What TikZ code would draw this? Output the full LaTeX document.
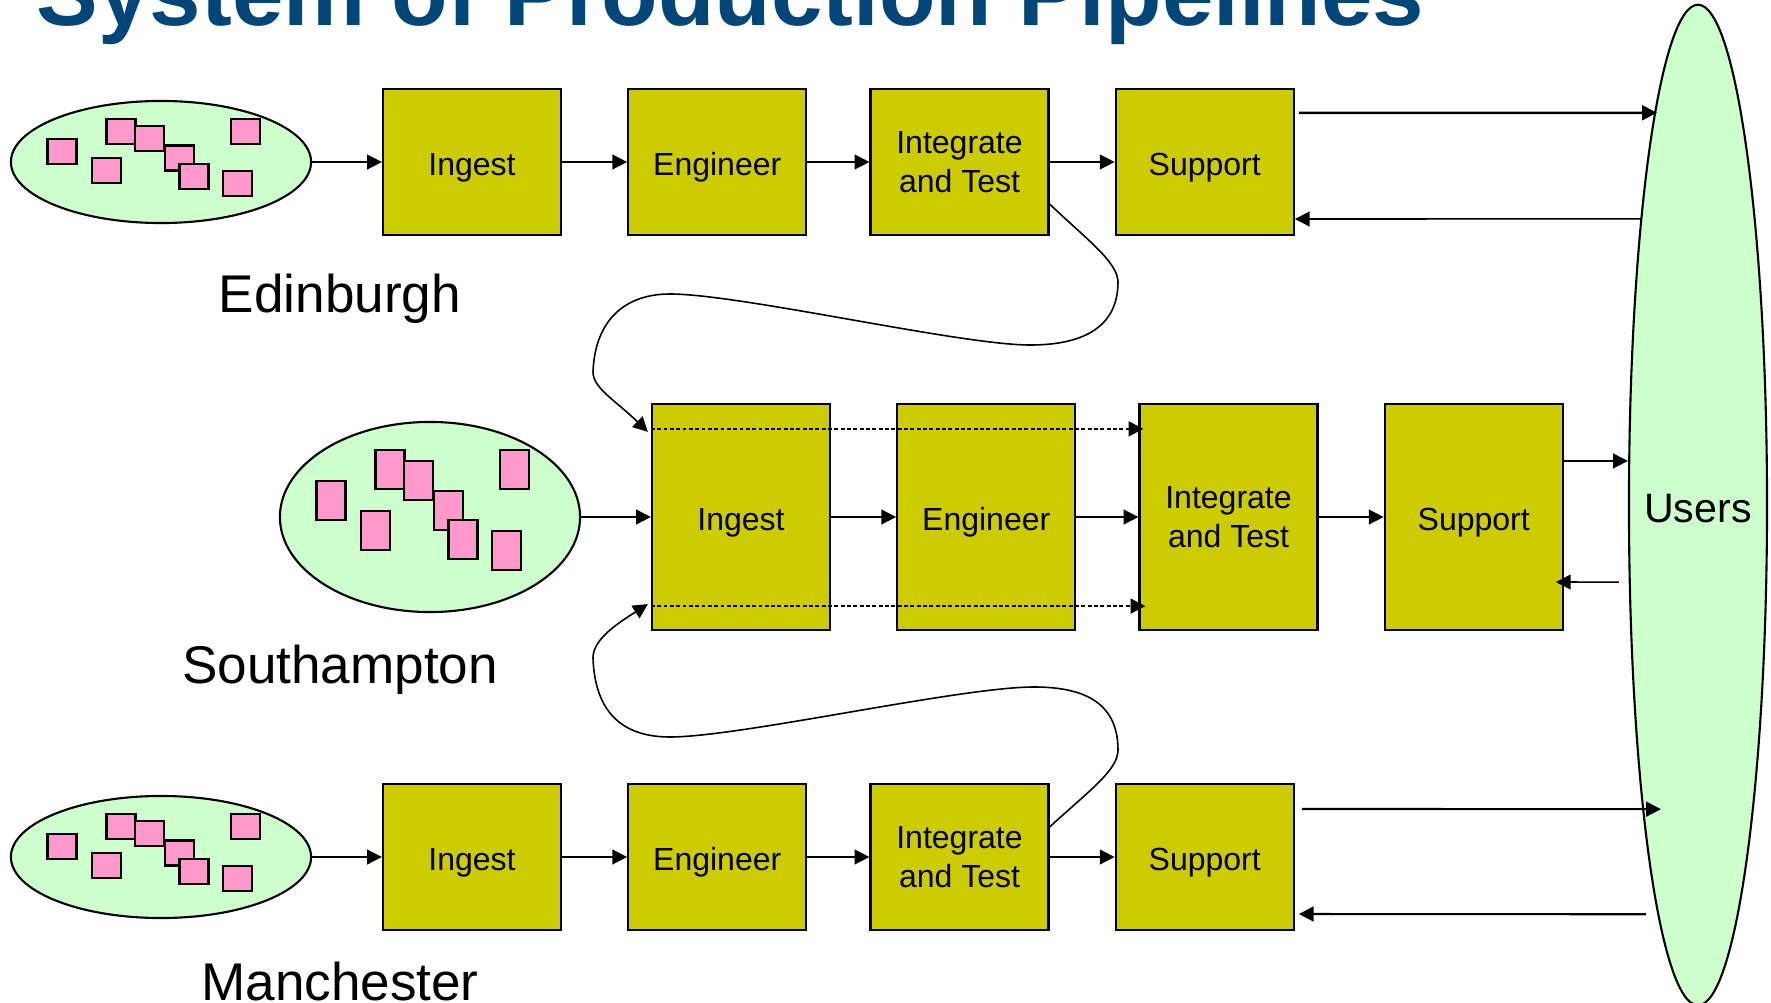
\documentclass[tikz,border=0pt]{standalone}
\usepackage{fontspec}
\setmainfont{Liberation Sans}
\usetikzlibrary{shapes.geometric, arrows.meta, positioning}
\definecolor{stageyellow}{RGB}{204,204,0}
\definecolor{sitegreen}{RGB}{204,255,204}
\definecolor{paperpink}{RGB}{255,153,204}
\definecolor{titleblue}{RGB}{0,70,120}
\tikzstyle{stage} = [rectangle, minimum width=1.78cm, minimum height=1.46cm, text centered, align=center, draw=black, fill=stageyellow, line width=0.6pt, font=\fontsize{9.1}{10.9}\selectfont]
\tikzstyle{oneline} = [text height=7.6pt, text depth=0pt]
\tikzstyle{tallstage} = [stage, minimum height=2.26cm]
\tikzstyle{site} = [ellipse, minimum width=3cm, minimum height=1.22cm, draw=black, fill=sitegreen, line width=0.6pt]
\tikzstyle{paper} = [draw=black, fill=paperpink, line width=0.6pt]
\tikzstyle{place} = [anchor=base, inner sep=0pt, font=\fontsize{15.1}{18}\selectfont]
\tikzstyle{arrow} = [->, >={Triangle[length=4.2pt,width=4.2pt]}, line width=0.45pt]
\tikzstyle{dots} = [arrow, line width=0.6pt, dash pattern=on 1.1pt off 0.7pt]

\begin{document}
\begin{tikzpicture}[x=0.01cm, y=-0.01cm, node distance=0.65cm]
		\useasboundingbox (0,0) rectangle (1771,1003);
		\node (title) [anchor=base west, inner sep=0pt, text=titleblue, font=\fontsize{26.3}{30}\selectfont\bfseries] at (36,25) {System of Production Pipelines};
		
		% users
		\node (users) [site, minimum width=1.38cm, minimum height=10cm] at (1698,505) {};
		\node (userstxt) [font=\fontsize{11.7}{14}\selectfont] at (1698,509) {Users};
		
		% sites
		\node (edin) [site] at (161,162) {};
		\node (soton) [site, minimum height=1.9cm] at (430,517) {};
		\node (manc) [site] at (161,857) {};
		\foreach \s/\k in {edin/1, soton/1.56, manc/1}
		{
			\begin{scope}[shift={(\s.center)}, yscale=\k]
				\foreach \x/\y in {-99/-10.5, -54.5/8.5, -40/-30.5, -11.5/-23.5, 18.5/-4, 33/14.5, 84.5/-30.5, 76.5/21.5}
					\draw [paper] ({\x-14.5},{\y-12.5}) rectangle ({\x+14.5},{\y+12.5});
			\end{scope}
		}
		\node (edinlbl) [place] at (340,312) {Edinburgh};
		\node (sotonlbl) [place] at (340,683) {Southampton};
		\node (manclbl) [place] at (340,1000) {Manchester};
		
		% pipelines
		\node (ingA) [stage, oneline] at (472,162) {Ingest};
		\node (engA) [stage, oneline, right=of ingA] {Engineer};
		\node (intA) [stage, right=0.62cm of engA] {Integrate\\and Test};
		\node (supA) [stage, oneline, right=of intA] {Support};
		
		\node (ingB) [tallstage, oneline] at (741,517) {Ingest};
		\node (engB) [tallstage, oneline, right=of ingB] {Engineer};
		\node (intB) [tallstage, right=0.62cm of engB] {Integrate\\and Test};
		\node (supB) [tallstage, oneline, right=of intB] {Support};
		
		\node (ingC) [stage, oneline] at (472,857) {Ingest};
		\node (engC) [stage, oneline, right=of ingC] {Engineer};
		\node (intC) [stage, right=0.62cm of engC] {Integrate\\and Test};
		\node (supC) [stage, oneline, right=of intC] {Support};
		
		\draw [arrow] (edin) -- (ingA);
		\draw [arrow] (ingA) -- (engA);
		\draw [arrow] (engA) -- (intA);
		\draw [arrow] (intA) -- (supA);
		\draw [arrow] (soton) -- (ingB);
		\draw [arrow] (ingB) -- (engB);
		\draw [arrow] (engB) -- (intB);
		\draw [arrow] (intB) -- (supB);
		\draw [arrow] (manc) -- (ingC);
		\draw [arrow] (ingC) -- (engC);
		\draw [arrow] (engC) -- (intC);
		\draw [arrow] (intC) -- (supC);
		
		\draw [dots] ([yshift=-0.26cm]ingB.north west) -- ([xshift=0.05cm,yshift=-0.26cm]intB.north west);
		\draw [dots] ([yshift=0.25cm]ingB.south west) -- ([xshift=0.07cm,yshift=0.25cm]intB.south west);
		
		% hand-over between sites
		\draw [arrow] ([yshift=-0.42cm]intA.east) .. controls (1085,238) and (1118,262) .. (1118,282) .. controls (1118,335) and (1070,345) .. (1030,345) .. controls (960,345) and (740,294) .. (670,294) .. controls (625,294) and (595,320) .. (593,372) .. controls (593,388) and (615,400) .. ([xshift=-0.03cm,yshift=-0.29cm]ingB.north west);
		\draw [arrow] ([yshift=0.30cm]intC.east) .. controls (1090,790) and (1118,770) .. (1118,750) .. controls (1118,700) and (1080,687) .. (1034,687) .. controls (960,687) and (740,737) .. (670,737) .. controls (625,737) and (595,715) .. (593,658) .. controls (593,640) and (615,625) .. ([xshift=-0.03cm,yshift=0.27cm]ingB.south west);
		
		% to and from users
		\draw [arrow, line width=0.7pt] ([xshift=0.04cm,yshift=0.49cm]supA.east) -- ([xshift=0.29cm,yshift=3.92cm]users.west);
		\draw [arrow] ([xshift=0.14cm,yshift=2.86cm]users.west) -- ([yshift=-0.57cm]supA.east);
		\draw [arrow] ([yshift=0.56cm]supB.east) -- ([yshift=0.44cm]users.west);
		\draw [arrow] ([xshift=-0.09cm,yshift=-0.77cm]users.west) -- ([xshift=-0.08cm,yshift=-0.65cm]supB.east);
		\draw [arrow, line width=0.6pt] ([xshift=0.07cm,yshift=0.48cm]supC.east) -- ([xshift=0.33cm,yshift=-3.04cm]users.west);
		\draw [arrow, line width=0.6pt] ([xshift=0.18cm,yshift=-4.09cm]users.west) -- ([xshift=0.04cm,yshift=-0.57cm]supC.east);
\end{tikzpicture}
\end{document}
